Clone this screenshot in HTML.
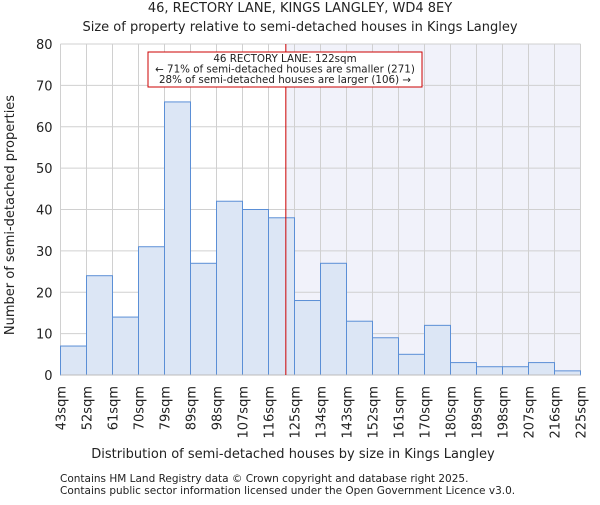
<!DOCTYPE html>
<html><head><meta charset="utf-8"><style>
body{margin:0;background:#fff;}
svg text{font-family:"DejaVu Sans","Liberation Sans",sans-serif;fill:#222;}
</style></head><body>
<svg id="chart" width="600" height="500" xmlns="http://www.w3.org/2000/svg">
<text x="300" y="12" text-anchor="middle" font-size="13">46, RECTORY LANE, KINGS LANGLEY, WD4 8EY</text>
<text x="300" y="31" text-anchor="middle" font-size="13">Size of property relative to semi-detached houses in Kings Langley</text>
<g id="plot"></g>
<text x="293" y="458" text-anchor="middle" font-size="13">Distribution of semi-detached houses by size in Kings Langley</text>
<text transform="translate(14,215) rotate(-90)" text-anchor="middle" font-size="13">Number of semi-detached properties</text>
<text x="60" y="482" font-size="10.5" fill="#555">Contains HM Land Registry data © Crown copyright and database right 2025.</text>
<text x="60" y="494" font-size="10.5" fill="#555">Contains public sector information licensed under the Open Government Licence v3.0.</text>
</svg>
<script>
const binEdges=[43,52,61,70,79,89,98,107,116,125,134,143,152,161,170,180,189,198,207,216,225];
const counts=[7,24,14,31,66,27,42,40,38,18,27,13,9,5,12,3,2,2,3,1];
const yTicks=[0,10,20,30,40,50,60,70,80];
const propertyBin=8, propertyFrac=6/9;
const NS="http://www.w3.org/2000/svg";
const g=document.getElementById('plot');
const X0=60.5,X1=580.5,Y0=375,Y1=44,YMAX=80;
const nb=counts.length;
const xb=i=>X0+(X1-X0)*i/nb;
const y=v=>Y0-(Y0-Y1)*v/YMAX;
function mk(t,a){const e=document.createElementNS(NS,t);for(const k in a)e.setAttribute(k,a[k]);g.appendChild(e);return e;}
const redX=xb(propertyBin+propertyFrac);
let e=mk('rect',{x:redX,y:Y1,width:X1-redX,height:Y0-Y1,fill:'#f1f2fa'});


for(const t of yTicks){
 e=mk('line',{x1:X0,x2:X1,y1:y(t),y2:y(t),stroke:'#d0d0d0','stroke-width':1});
 
 
 e=mk('text',{x:X0-8,y:y(t)+5,'text-anchor':'end','font-size':13});e.textContent=t;
 
 
}
for(let i=0;i<=nb;i++){
 e=mk('line',{x1:xb(i),x2:xb(i),y1:Y1,y2:Y0,stroke:'#d0d0d0','stroke-width':1});
 
 
}
counts.forEach((c,i)=>{
 e=mk('rect',{x:xb(i),y:y(c),width:xb(i+1)-xb(i),height:Y0-y(c),fill:'#dce6f5',stroke:'#5b8fd6','stroke-width':1});
 
 
});
binEdges.forEach((b,i)=>{
 e=mk('text',{transform:`translate(${xb(i)+5},386) rotate(-90)`,'text-anchor':'end','font-size':13});e.textContent=b+'sqm';
 
 
});
e=mk('line',{x1:X0,x2:X1,y1:Y0,y2:Y0,stroke:'#bbb'});


e=mk('line',{x1:redX,x2:redX,y1:Y1,y2:Y0,stroke:'#cc0000','stroke-width':1});


e=mk('rect',{x:148,y:52,width:274,height:35,fill:'#fff',stroke:'#cc0000','stroke-width':1});


const lines=['46 RECTORY LANE: 122sqm','← 71% of semi-detached houses are smaller (271)','28% of semi-detached houses are larger (106) →'];
lines.forEach((l,i)=>{
 e=mk('text',{x:285,y:62+i*10.5,'text-anchor':'middle','font-size':10.3});e.textContent=l;
 
 
});
</script>
</body></html>
